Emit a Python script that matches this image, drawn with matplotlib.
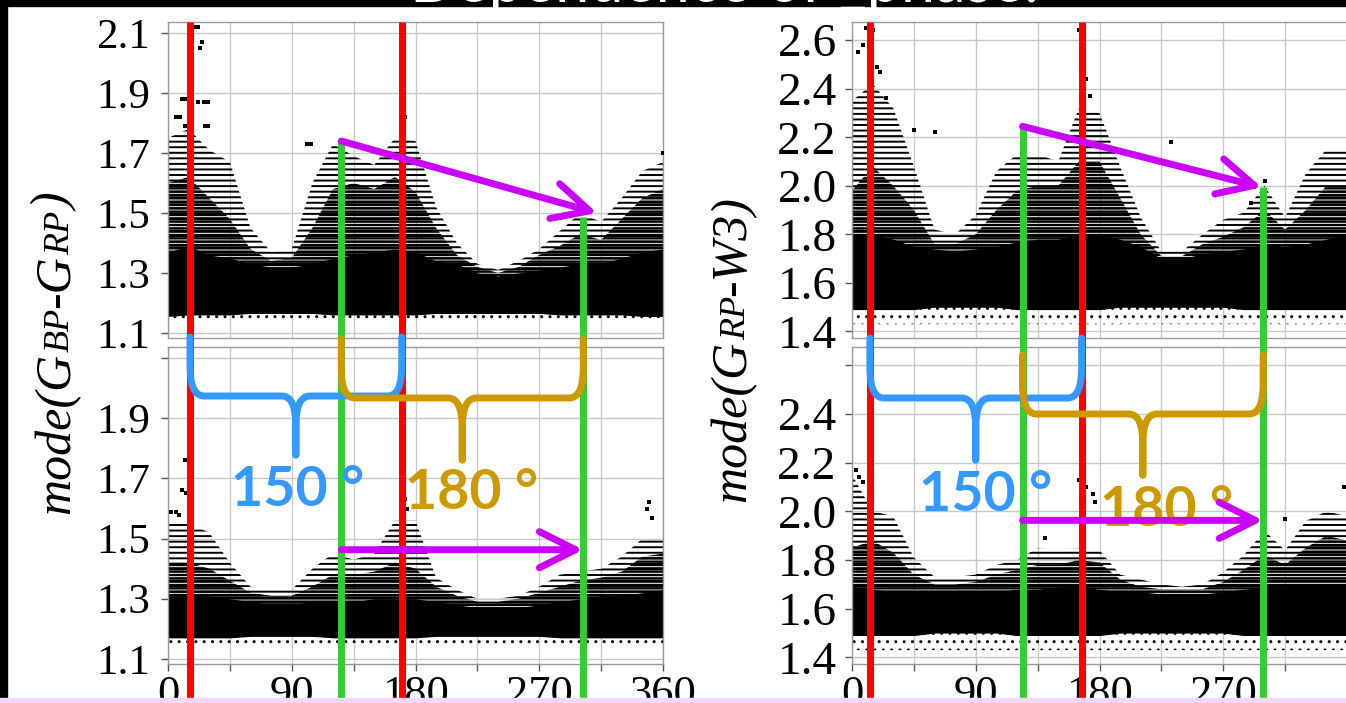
import matplotlib
matplotlib.use("Agg")
import matplotlib.pyplot as plt
from matplotlib.path import Path
from matplotlib.patches import PathPatch, Rectangle

# ---------------------------------------------------------------- data
PHASE = [0, 15, 30, 45, 60, 75, 90, 105, 120, 135, 150, 165, 180,
         195, 210, 225, 240, 255, 270, 285, 300, 315, 330, 345, 360]

# mode(G_BP - G_RP), upper phase panel: bottom of the cloud, top of the solid
# core, top of the dense streaks, top of the sparse streaks
BPRP_A_LOW = [1.155, 1.16, 1.16, 1.16, 1.165, 1.165, 1.165, 1.165, 1.16, 1.16, 1.16, 1.16, 1.16,
              1.165, 1.165, 1.165, 1.165, 1.165, 1.165, 1.16, 1.16, 1.16, 1.16, 1.155, 1.155]
BPRP_A_CORE = [1.37, 1.39, 1.36, 1.35, 1.33, 1.32, 1.32, 1.33, 1.35, 1.36, 1.37, 1.38, 1.37,
               1.34, 1.33, 1.30, 1.29, 1.30, 1.31, 1.32, 1.33, 1.33, 1.35, 1.37, 1.38]
BPRP_A_MID = [1.60, 1.62, 1.55, 1.48, 1.38, 1.34, 1.35, 1.45, 1.58, 1.60, 1.58, 1.62, 1.57,
              1.45, 1.36, 1.32, 1.30, 1.32, 1.36, 1.39, 1.43, 1.41, 1.48, 1.55, 1.58]
BPRP_A_TOP = [1.75, 1.78, 1.71, 1.67, 1.45, 1.37, 1.38, 1.60, 1.73, 1.69, 1.66, 1.75, 1.74,
              1.52, 1.40, 1.33, 1.31, 1.34, 1.38, 1.44, 1.50, 1.47, 1.55, 1.64, 1.67]
BPRP_A_OUT_X = [19, 22, 25, 23, 10, 13, 16, 22, 26, 29, 6, 9, 12, 14, 27, 29, 170, 171, 172, 360, 104, 101]
BPRP_A_OUT_Y = [2.12, 2.12, 2.07, 2.05, 1.88, 1.88, 1.88, 1.87, 1.87, 1.87, 1.82, 1.82, 1.79, 1.79,
                1.79, 1.79, 1.99, 1.86, 1.82, 1.70, 1.73, 1.73]

# mode(G_BP - G_RP), lower phase panel
BPRP_B_LOW = [1.17, 1.17, 1.17, 1.17, 1.175, 1.175, 1.175, 1.175, 1.17, 1.17, 1.17, 1.17, 1.17,
              1.175, 1.175, 1.175, 1.175, 1.175, 1.175, 1.17, 1.17, 1.17, 1.17, 1.17, 1.17]
BPRP_B_CORE = [1.31, 1.31, 1.31, 1.30, 1.29, 1.28, 1.28, 1.29, 1.29, 1.29, 1.30, 1.30, 1.30,
               1.29, 1.28, 1.27, 1.27, 1.27, 1.28, 1.29, 1.30, 1.31, 1.31, 1.32, 1.33]
BPRP_B_MID = [1.42, 1.42, 1.40, 1.36, 1.32, 1.31, 1.31, 1.34, 1.38, 1.38, 1.39, 1.42, 1.40,
              1.34, 1.31, 1.29, 1.29, 1.30, 1.32, 1.34, 1.36, 1.37, 1.39, 1.44, 1.45]
BPRP_B_TOP = [1.55, 1.55, 1.52, 1.42, 1.34, 1.33, 1.33, 1.40, 1.45, 1.43, 1.45, 1.56, 1.56,
              1.37, 1.33, 1.30, 1.30, 1.31, 1.34, 1.38, 1.39, 1.40, 1.44, 1.50, 1.50]
BPRP_B_OUT_X = [12, 10, 13, 2, 6, 8, 170, 172, 174, 350, 352, 348]
BPRP_B_OUT_Y = [1.76, 1.66, 1.65, 1.59, 1.59, 1.58, 1.63, 1.63, 1.60, 1.62, 1.57, 1.60]

# mode(G_RP - W3), upper phase panel
RPW3_C_LOW = [1.49, 1.49, 1.49, 1.49, 1.50, 1.50, 1.50, 1.50, 1.49, 1.49, 1.49, 1.49, 1.49,
              1.50, 1.50, 1.50, 1.50, 1.50, 1.50, 1.49, 1.49, 1.49, 1.49, 1.49, 1.49]
RPW3_C_CORE = [1.80, 1.80, 1.78, 1.75, 1.74, 1.73, 1.74, 1.75, 1.77, 1.78, 1.78, 1.80, 1.80,
               1.78, 1.75, 1.70, 1.70, 1.72, 1.73, 1.74, 1.76, 1.75, 1.76, 1.78, 1.80]
RPW3_C_MID = [1.98, 2.08, 2.00, 1.90, 1.76, 1.76, 1.80, 1.90, 1.98, 2.00, 2.00, 2.10, 2.10,
              1.95, 1.80, 1.71, 1.71, 1.76, 1.79, 1.83, 1.90, 1.82, 1.90, 2.00, 2.00]
RPW3_C_TOP = [2.35, 2.42, 2.32, 2.08, 1.82, 1.80, 1.88, 2.06, 2.13, 2.13, 2.10, 2.32, 2.30,
              2.08, 1.87, 1.73, 1.73, 1.80, 1.86, 1.89, 2.00, 1.87, 2.05, 2.15, 2.15]
RPW3_C_OUT_X = [10, 12, 15, 8, 12, 4, 12, 18, 20, 25, 45, 60, 165, 168, 170, 173, 232, 300, 290]
RPW3_C_OUT_Y = [2.65, 2.64, 2.64, 2.58, 2.58, 2.55, 2.52, 2.49, 2.47, 2.36, 2.23, 2.22, 2.64,
                2.45, 2.44, 2.37, 2.18, 2.02, 1.93]

# mode(G_RP - W3), lower phase panel
RPW3_D_LOW = [1.49, 1.49, 1.49, 1.49, 1.50, 1.50, 1.50, 1.50, 1.49, 1.49, 1.49, 1.49, 1.49,
              1.50, 1.50, 1.50, 1.50, 1.50, 1.50, 1.49, 1.49, 1.49, 1.49, 1.49, 1.49]
RPW3_D_CORE = [1.69, 1.68, 1.67, 1.67, 1.67, 1.67, 1.67, 1.67, 1.68, 1.68, 1.69, 1.69, 1.68,
               1.67, 1.67, 1.66, 1.66, 1.66, 1.67, 1.68, 1.69, 1.69, 1.70, 1.70, 1.70]
RPW3_D_MID = [1.85, 1.88, 1.83, 1.74, 1.70, 1.70, 1.71, 1.74, 1.76, 1.78, 1.78, 1.80, 1.79,
              1.72, 1.69, 1.68, 1.68, 1.68, 1.71, 1.76, 1.82, 1.78, 1.85, 1.90, 1.88]
RPW3_D_TOP = [2.15, 2.00, 1.98, 1.81, 1.73, 1.73, 1.74, 1.78, 1.80, 1.85, 1.84, 1.85, 1.84,
              1.74, 1.72, 1.70, 1.69, 1.70, 1.75, 1.82, 1.92, 1.84, 1.96, 2.00, 1.98]
RPW3_D_OUT_X = [3, 5, 8, 165, 170, 175, 177, 358, 315, 140]
RPW3_D_OUT_Y = [2.17, 2.14, 2.12, 2.13, 2.10, 2.07, 2.04, 2.10, 1.97, 1.89]

BPRP_FLOOR = 1.14
RPW3_FLOOR = 1.43

BPRP_TICKS = [2.1, 1.9, 1.7, 1.5, 1.3, 1.1]
RPW3_TICKS = [2.6, 2.4, 2.2, 2.0, 1.8, 1.6, 1.4]
PHASE_TICKS = [0, 90, 180, 270, 360]
PHASE_MINOR = [45, 135, 225, 315]

# phase markers (degrees)
RED_L = [16, 170]
GREEN_L = [126, 302]
RED_R = [13, 167]
GREEN_R = [124, 299]
GREEN_TOP_L = [1.74, 1.487]
GREEN_TOP_R = [2.245, 1.994]
ARROW_TL = [(126, 1.74), (312, 1.50)]
ARROW_BL = [(126, 1.463), (302, 1.463)]
ARROW_TR = [(124, 2.245), (298, 1.994)]
ARROW_BR = [(124, 1.963), (299, 1.963)]
SPAN_SHORT = "150 °"
SPAN_LONG = "180 °"

# ---------------------------------------------------------------- figure
W, H, DPI = 1346, 703, 100
plt.rcParams["font.family"] = ["Liberation Serif", "DejaVu Serif"]
fig = plt.figure(figsize=(W / DPI, H / DPI), dpi=DPI)
fig.patch.set_facecolor("white")

RED, GREEN, BLUE, GOLD, MAGENTA = "#ff0000", "#33cc33", "#3399ff", "#cc9900", "#cc00ff"


def box(x0, y0, x1, y1):
    """pixel box measured from the top-left corner -> figure fraction rect"""
    return [x0 / W, 1 - y1 / H, (x1 - x0) / W, (y1 - y0) / H]


def style_axes(ax, ylim, ticks, tsize, xlabels, pad):
    ax.set_xlim(0, 360)
    ax.set_ylim(*ylim)
    ax.set_xticks(PHASE_TICKS)
    ax.set_xticks(PHASE_MINOR, minor=True)
    ax.set_yticks(ticks)
    ax.grid(True, which="both", color="#c8c8c8", lw=1.0, zorder=0)
    for s in ax.spines.values():
        s.set_color("#9a9a9a")
        s.set_linewidth(1.0)
    ax.tick_params(axis="y", which="both", direction="out", length=5, width=1,
                   color="#555555", labelsize=tsize, pad=pad)
    if xlabels:
        ax.set_xticklabels(xlabels)
        ax.tick_params(axis="x", which="both", direction="out", length=5, width=1,
                       color="#555555", labelsize=32, pad=3)
    else:
        ax.tick_params(axis="x", which="both", length=0, labelbottom=False)
    ax.set_axisbelow(True)


def draw_cloud(ax, low, core, mid, top, floor, out_x, out_y):
    # sparse streaks, dense streaks, then the solid core laid over them
    plt.rcParams["hatch.linewidth"] = 1.4
    ax.fill_between(PHASE, low, top, facecolor="none", edgecolor="black",
                    hatch="---", lw=0, zorder=2)
    plt.rcParams["hatch.linewidth"] = 1.7
    ax.fill_between(PHASE, low, mid, facecolor="none", edgecolor="black",
                    hatch="-----", lw=0, zorder=2)
    ax.fill_between(PHASE, low, core, color="black", lw=0, zorder=2)
    plt.rcParams["hatch.linewidth"] = 1.0
    ax.fill_between(PHASE, [floor] * len(PHASE), low, facecolor="none",
                    edgecolor="black", hatch="..", lw=0, zorder=2)
    ax.scatter(out_x, out_y, s=6, marker="s", color="black", lw=0, zorder=3)


YL_L = (1.083, 2.137)
YL_R = (1.373, 2.675)

ax_a = fig.add_axes(box(168, 22, 663, 338))
ax_b = fig.add_axes(box(168, 347, 663, 664))
ax_c = fig.add_axes(box(852, 22, 1347, 338))
ax_d = fig.add_axes(box(852, 347, 1347, 664))

style_axes(ax_a, YL_L, BPRP_TICKS, 31, None, 8)
style_axes(ax_b, YL_L, BPRP_TICKS, 31, [str(t) for t in PHASE_TICKS], 8)
style_axes(ax_c, YL_R, RPW3_TICKS, 34, None, 6)
style_axes(ax_d, YL_R, RPW3_TICKS, 34, [str(t) for t in PHASE_TICKS[:-1]] + [""], 6)
ax_b.set_yticklabels([""] + [f"{t:.1f}" for t in BPRP_TICKS[1:]])
ax_d.set_yticklabels([""] + [f"{t:.1f}" for t in RPW3_TICKS[1:]])

draw_cloud(ax_a, BPRP_A_LOW, BPRP_A_CORE, BPRP_A_MID, BPRP_A_TOP, BPRP_FLOOR, BPRP_A_OUT_X, BPRP_A_OUT_Y)
draw_cloud(ax_b, BPRP_B_LOW, BPRP_B_CORE, BPRP_B_MID, BPRP_B_TOP, BPRP_FLOOR, BPRP_B_OUT_X, BPRP_B_OUT_Y)
draw_cloud(ax_c, RPW3_C_LOW, RPW3_C_CORE, RPW3_C_MID, RPW3_C_TOP, RPW3_FLOOR, RPW3_C_OUT_X, RPW3_C_OUT_Y)
draw_cloud(ax_d, RPW3_D_LOW, RPW3_D_CORE, RPW3_D_MID, RPW3_D_TOP, RPW3_FLOOR, RPW3_D_OUT_X, RPW3_D_OUT_Y)

# ---------------------------------------------------------------- overlay (display pixels)
ov = fig.add_axes([0, 0, 1, 1], zorder=10)
ov.set_xlim(0, W)
ov.set_ylim(0, H)
ov.axis("off")
ov.patch.set_alpha(0)


def to_px(ax, x, y):
    return ax.transData.transform((x, y))


def vline_from(ax, phase, yval, color):
    x, y = to_px(ax, phase, yval)
    ov.plot([x, x], [y, 0], color=color, lw=5, solid_capstyle="butt", zorder=1)


for ax_top, reds, greens, gtops in ((ax_a, RED_L, GREEN_L, GREEN_TOP_L),
                                    (ax_c, RED_R, GREEN_R, GREEN_TOP_R)):
    for p in reds:
        vline_from(ax_top, p, ax_top.get_ylim()[1], RED)
    for p, g in zip(greens, gtops):
        vline_from(ax_top, p, g, GREEN)


def brace(ax, p0, p1, y_top, y_bar, y_tip, color, z):
    xl = to_px(ax, p0, 0)[0]
    xr = to_px(ax, p1, 0)[0]
    xc = 0.5 * (xl + xr)
    yt, yb, yp = H - y_top, H - y_bar, H - y_tip
    a, b = 30, 14
    verts, codes = [], []
    for xe, sgn in ((xl, 1), (xr, -1)):
        verts += [(xe, yt), (xe, yb + a), (xe, yb), (xe + sgn * b, yb),
                  (xc - sgn * b, yb), (xc, yb), (xc, yb - a), (xc, yp)]
        codes += [Path.MOVETO, Path.LINETO, Path.CURVE3, Path.CURVE3,
                  Path.LINETO, Path.CURVE3, Path.CURVE3, Path.LINETO]
    ov.add_patch(PathPatch(Path(verts, codes), fill=False, edgecolor=color, lw=5,
                           capstyle="round", joinstyle="round", zorder=z))


brace(ax_b, RED_L[0], RED_L[1], 337, 396, 455, BLUE, 2)
brace(ax_b, GREEN_L[0], GREEN_L[1], 339, 398, 460, GOLD, 3)
brace(ax_d, RED_R[0], RED_R[1], 338, 398, 460, BLUE, 2)
brace(ax_d, GREEN_R[0], GREEN_R[1], 355, 414, 475, GOLD, 3)


def label(ax, x, y, s, color):
    px, py = to_px(ax, x, y)
    ov.text(px, py, s, color=color, fontsize=40, fontweight="bold",
            family=["Lato", "DejaVu Sans"], ha="center", va="center", zorder=4)


label(ax_b, 94.5, 1.66, SPAN_SHORT, BLUE)
label(ax_b, 221, 1.65, SPAN_LONG, GOLD)
label(ax_d, 97, 2.067, SPAN_SHORT, BLUE)
label(ax_d, 229, 2.005, SPAN_LONG, GOLD)


def arrow(ax, seg):
    (x0, y0), (x1, y1) = seg
    p0 = to_px(ax, x0, y0)
    p1 = to_px(ax, x1, y1)
    ov.annotate("", xy=p1, xytext=p0, xycoords="data", textcoords="data",
                arrowprops=dict(arrowstyle="->,head_length=1.3,head_width=0.65",
                                mutation_scale=20, color=MAGENTA, lw=5,
                                shrinkA=0, shrinkB=0, capstyle="round",
                                joinstyle="round"), zorder=5)


arrow(ax_a, ARROW_TL)
arrow(ax_b, ARROW_BL)
arrow(ax_c, ARROW_TR)
arrow(ax_d, ARROW_BR)

# ---------------------------------------------------------------- axis titles
renderer = fig.canvas.get_renderer()


def stacked_ylabel(x_px, yc_from_top, pieces):
    widths = []
    for s, size in pieces:
        t = fig.text(0, 0, s, fontsize=size, style="italic")
        widths.append(t.get_window_extent(renderer).width)
        t.remove()
    y = (H - yc_from_top) - sum(widths) / 2
    for (s, size), w in zip(pieces, widths):
        fig.text(x_px / W, y / H, s, fontsize=size, style="italic", rotation=90,
                 rotation_mode="anchor", ha="left", va="baseline")
        y += w


stacked_ylabel(69, 354, [("mode(G", 36), ("BP", 26), ("-G", 36), ("RP", 26), (")", 36)])
stacked_ylabel(745, 349, [("mode(G", 36), ("RP", 26), ("-W3)", 36)])

# ---------------------------------------------------------------- slide frame
fig.patches.append(Rectangle((0, 1 - 6 / H), 1, 6 / H, transform=fig.transFigure,
                             color="black", zorder=20))
fig.patches.append(Rectangle((0, 5 / H), 7 / W, 1, transform=fig.transFigure,
                             color="black", zorder=20))
fig.text(410 / W, 1 - 2 / H, "Dependence of _phase.", color="white", fontsize=44,
         family=["Lato", "DejaVu Sans"], ha="left", va="baseline", zorder=21)
fig.patches.append(Rectangle((0, 0), 1, 5 / H, transform=fig.transFigure,
                             color="#f3d8fc", zorder=22))

fig.savefig("out.png", dpi=DPI, facecolor="white")
